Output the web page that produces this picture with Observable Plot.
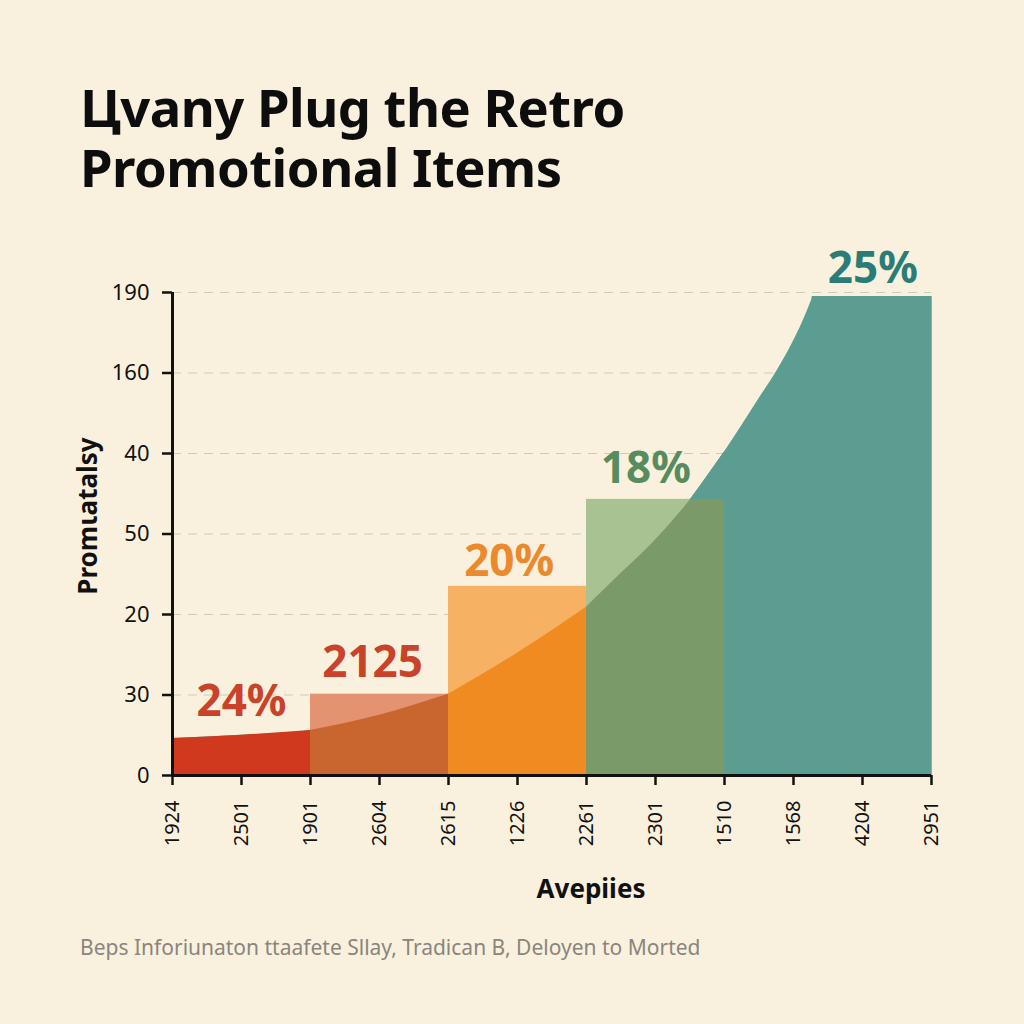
<!DOCTYPE html>
<html><head><meta charset="utf-8">
<script src="https://cdn.jsdelivr.net/npm/d3@7"></script>
<script src="https://cdn.jsdelivr.net/npm/@observablehq/plot@0.6"></script>
<style>
html,body{margin:0;padding:0;background:#f9f1dd;}
#wrap{position:relative;width:1024px;height:1024px;overflow:hidden;font-family:"Noto Sans",sans-serif;}
.tl{position:absolute;left:80px;margin:0;font-weight:700;font-size:52.5px;line-height:58px;height:58px;color:#0d0d0d;letter-spacing:-0.5px;white-space:nowrap;}
#t1{top:78px;}
#t2{top:138px;}
#chart{position:absolute;left:0;top:200px;}
#caption{position:absolute;left:80px;top:933px;font-size:21px;line-height:28px;color:#8a857e;white-space:nowrap;}
</style></head>
<body><div id="wrap">
<div class="tl" id="t1">Цvany Plug the Retro</div>
<div class="tl" id="t2">Promotional Items</div>
<div id="chart"></div>
<div id="caption">Beps Inforiunaton ttaafete Sllay, Tradican B, Deloyen to Morted</div>
</div>
<script>
// ---- data ----
const xTickLabels = ["1924","2501","1901","2604","2615","1226","2261","2301","1510","1568","4204","2951"];
const yTickLabels = ["0","30","20","50","40","160","190"];
const curveX = [0, 1, 2, 3, 4, 5, 6, 6.5, 6.95, 7.5, 8, 8.5, 8.77, 8.96, 9.1, 9.28, 11];
const curveY = [0.46, 0.50, 0.56, 0.75, 1.01, 1.52, 2.09, 2.51, 2.88, 3.42, 4.02, 4.68, 5.04, 5.33, 5.57, 5.94, 5.94];
const peakX = 9.28;
const segStart = [0, 2, 4, 6, 8];
const segEnd = [2, 4, 6, 8, 11];
const barTop = [0, 1.01, 2.35, 3.43, 0];
const segLabels = ["24%", "2125", "20%", "18%", "25%"];
const labelX = [1.0, 2.9, 4.88, 6.86, 10.15];
const labelY = [0.745, 1.22, 2.48, 3.63, 6.12];
const lightColors = ["#f9f1dd", "#e3936f", "#f6b163", "#a9c291", "#5b9e91"];
const darkColors = ["#d0391d", "#c9652f", "#f08b22", "#7b9a69", "#5b9e91"];
const labelColors = ["#c8432a", "#c8432a", "#ea8a2d", "#588c5f", "#2a7d76"];
const yAxisLabel = "Promɩatalsy";
const xAxisLabel = "Avepiies";

// ---- build ----
const teal = darkColors[4];
const curvePts = curveX.map((x, i) => ({x, y: curveY[i]}));
const segs = segStart.map((s, i) => ({
  i, x1: s, x2: segEnd[i], top: barTop[i], light: lightColors[i], dark: darkColors[i],
  label: segLabels[i], lx: labelX[i], ly: labelY[i], lc: labelColors[i]
}));
// dark areas: full curve within each of the first four segments
const darkPts = [];
segs.slice(0, 4).forEach(sg => {
  curvePts.filter(p => p.x >= sg.x1 && p.x <= sg.x2).forEach(p =>
    darkPts.push({seg: sg.i, x: p.x, y: p.y, fill: sg.dark}));
});
// teal patches where the curve rises above a bar inside its segment
const patchPts = [];
segs.filter(sg => sg.top > 0).forEach(sg => {
  const pts = curvePts.filter(p => p.x >= sg.x1 && p.x <= sg.x2 && p.y >= sg.top - 0.02);
  if (pts.length > 1) pts.forEach(p => patchPts.push({seg: sg.i, x: p.x, y1: sg.top, y2: p.y}));
});
const risePts = curvePts.filter(p => p.x <= peakX);
const flatPts = curvePts.filter(p => p.x >= peakX);

const chart = Plot.plot({
  width: 1024, height: 720,
  marginLeft: 172, marginRight: 93, marginTop: 92, marginBottom: 145,
  style: {background: "transparent", fontFamily: "Noto Sans", overflow: "visible"},
  x: {domain: [0, 11]},
  y: {domain: [0, 6]},
  color: {type: "identity"},
  marks: [
    Plot.ruleY(d3.range(1, 7), {stroke: "#cdc9bb", strokeWidth: 1.2, strokeDasharray: "9,7"}),
    Plot.areaY(risePts, {x: "x", y1: 0, y2: "y", fill: teal, curve: "monotone-x"}),
    Plot.areaY(flatPts, {x: "x", y1: 0, y2: "y", fill: teal, stroke: teal, strokeWidth: 1.5}),
    Plot.rectY(segs.filter(d => d.top > 0), {x1: "x1", x2: "x2", y1: 0, y2: "top", fill: "light"}),
    Plot.areaY(darkPts, {x: "x", y1: 0, y2: "y", z: "seg", fill: "fill", curve: "monotone-x"}),
    Plot.areaY(patchPts, {x: "x", y1: "y1", y2: "y2", z: "seg", fill: teal}),
    Plot.text(segs, {x: "lx", y: "ly", text: "label", fill: "lc", fontSize: 44, fontWeight: "bold", lineAnchor: "bottom"}),
    Plot.ruleX([0], {y1: 0, y2: 6, stroke: "#111", strokeWidth: 3}),
    Plot.ruleY([0], {stroke: "#111", strokeWidth: 3}),
    Plot.axisY({ticks: d3.range(7), tickFormat: i => yTickLabels[i], tickSize: 10, tickPadding: 13, fontSize: 22, strokeWidth: 2.5, color: "#111", label: null}),
    Plot.axisX({ticks: d3.range(12), tickFormat: i => xTickLabels[i], tickRotate: -90, tickSize: 10, tickPadding: 15, fontSize: 20, strokeWidth: 2.5, color: "#111", label: null}),
    Plot.text([yAxisLabel], {frameAnchor: "left", textAnchor: "middle", rotate: -90, dx: -84, dy: -18, fontSize: 26, fontWeight: "bold", fill: "#111"}),
    Plot.text([xAxisLabel], {frameAnchor: "bottom", textAnchor: "middle", dx: 39, dy: 122, lineAnchor: "bottom", fontSize: 26, fontWeight: "bold", fill: "#111"})
  ]
});
document.getElementById("chart").appendChild(chart);
</script>
</body></html>
